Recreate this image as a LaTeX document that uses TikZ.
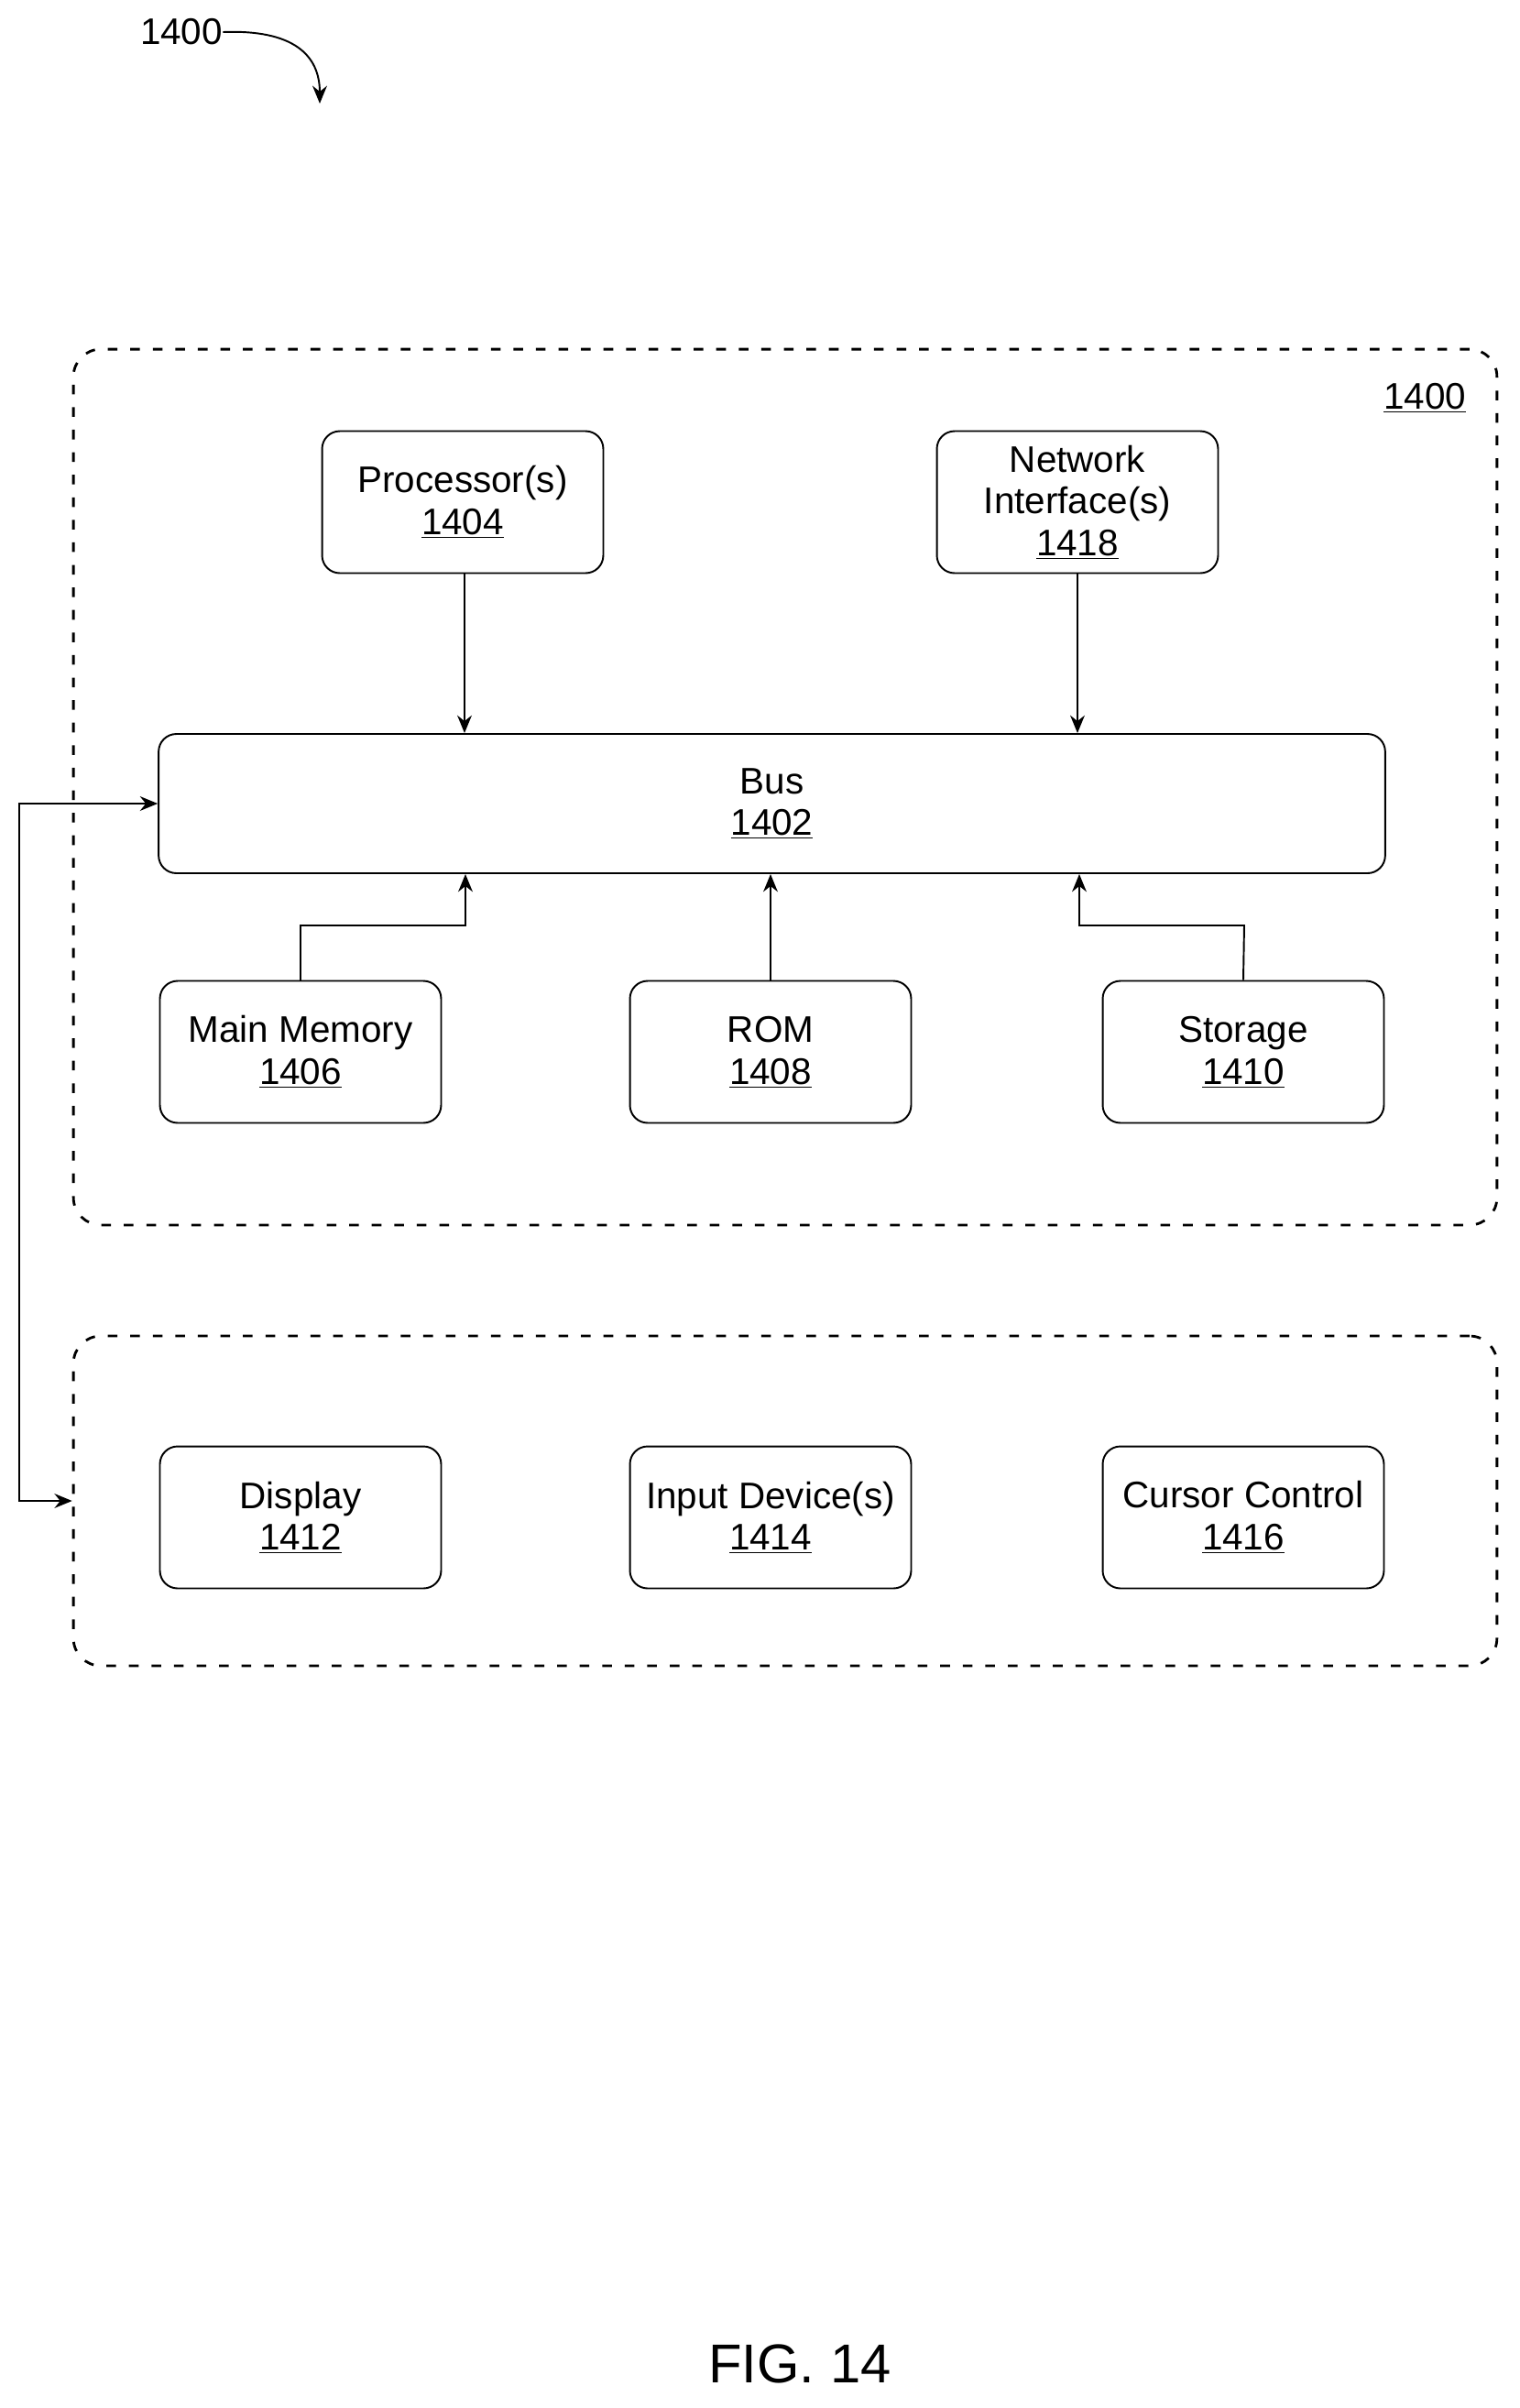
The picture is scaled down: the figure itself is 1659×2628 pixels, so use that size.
\documentclass[tikz,border=0pt]{standalone}
\usepackage{fontspec}
\setmainfont{Liberation Sans}
\usetikzlibrary{arrows.meta}
\begin{document}
\begin{tikzpicture}[x=0.02cm,y=-0.02cm,
  txt/.style={font=\fontsize{23}{26}\selectfont, align=center, inner sep=0pt},
  box/.style={txt, draw, line width=1.1pt, rounded corners=11pt, minimum width=6.14cm, minimum height=3.1cm},
  grp/.style={draw, line width=1.6pt, dash pattern=on 6pt off 8pt, rounded corners=17pt, minimum width=31.08cm, inner sep=0pt},
  arr/.style={line width=1.1pt, -{Stealth[length=11pt,width=9pt]}}]
\useasboundingbox (0,0) rectangle (1659,2628);
\node[grp, minimum height=19.12cm] (o1) at (857,859) {};
\node[grp, minimum height=7.2cm] (o2) at (857,1638) {};
\node[txt] (l1400) at (1555,434) {\underline{1400}};
\node[txt] (top) at (198,35) {1400};
\coordinate (tip) at (349,113);
\draw[arr] (top.east) .. controls (320,32) and (349,60) .. (tip);
\node[box] (proc) at (505,548) {Processor(s)\\\underline{1404}};
\node[box] (net) at (1176,548) {Network\\Interface(s)\\\underline{1418}};
\node[box, minimum width=26.78cm, minimum height=3.04cm] (bus) at (842.5,877) {Bus\\\underline{1402}};
\node[box] (mem) at (328,1148) {Main Memory\\\underline{1406}};
\node[box] (rom) at (841,1148) {ROM\\\underline{1408}};
\node[box] (sto) at (1357,1148) {Storage\\\underline{1410}};
\node[box] (disp) at (328,1656) {Display\\\underline{1412}};
\node[box] (inp) at (841,1656) {Input Device(s)\\\underline{1414}};
\node[box] (cur) at (1357,1656) {Cursor Control\\\underline{1416}};
\node[font=\fontsize{34}{40}\selectfont, inner sep=0pt] (fig) at (873,2580) {FIG. 14};
\draw[arr] (proc.south -| 507,0) -- (bus.north -| 507,0);
\draw[arr] (net.south) -- (bus.north -| net.south);
\coordinate (mk) at (328,1010);
\coordinate (sk) at (1358,1010);
\draw[arr] (mem.north) -- (mk) -- (508,1010) -- (bus.south -| 508,0);
\draw[arr] (rom.north) -- (bus.south -| rom.north);
\draw[arr] (sto.north) -- (sk) -- (1178,1010) -- (bus.south -| 1178,0);
\coordinate (lx) at (21,877);
\draw[arr, {Stealth[length=11pt,width=9pt]}-{Stealth[length=11pt,width=9pt]}] (bus.west) -- (lx) -- (lx |- o2.west) -- (o2.west);
\end{tikzpicture}
\end{document}
